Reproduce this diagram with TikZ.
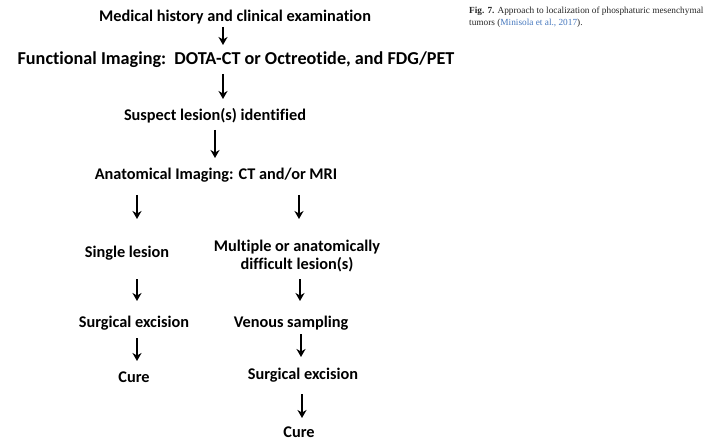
\documentclass[tikz,border=0pt]{standalone}
\usepackage{fontspec}
\setmainfont[Ligatures=NoCommon]{Carlito}
\newfontfamily\capfont{Liberation Serif}
\usetikzlibrary{arrows.meta}
\definecolor{citeblue}{RGB}{70,120,190}
\begin{document}
\begin{tikzpicture}[x=1pt,y=-1pt,
  lbl/.style={font=\fontsize{16.3}{18.5}\selectfont\bfseries, inner sep=0pt, align=center},
  big/.style={font=\fontsize{18.2}{21}\selectfont\bfseries, inner sep=0pt},
  arr/.style={line width=1.5pt, -{Stealth[length=8pt,width=9pt,inset=2.5pt]}},
  captext/.style={font=\fontsize{9.3}{11}\selectfont\capfont, text=black!85, inner sep=0pt, anchor=west}]
\useasboundingbox (0,0) rectangle (705,441);
\node[lbl] (med) at (235,17) {Medical history and clinical examination};
\node[big] (fun) at (236,60) {Functional Imaging:\ \ DOTA-CT or Octreotide, and FDG/PET};
\node[lbl] (sus) at (215,116) {Suspect lesion(s) identified};
\node[lbl] (ana) at (216,175) {Anatomical Imaging: CT and/or MRI};
\node[lbl] (sin) at (127,253) {Single lesion};
\node[lbl] (mul) at (297,256) {Multiple or anatomically\\difficult lesion(s)};
\node[lbl] (se1) at (134,323) {Surgical excision};
\node[lbl] (ven) at (291,323) {Venous sampling};
\node[lbl] (cu1) at (134,377) {Cure};
\node[lbl] (se2) at (303,375) {Surgical excision};
\node[lbl] (cu2) at (299,432) {Cure};
\node[captext] (cap1) at (469,11) {\textbf{Fig. 7.} Approach to localization of phosphaturic mesenchymal};
\node[captext] (cap2) at (469,23) {tumors (\textcolor{citeblue}{Minisola et al., 2017}).};
\coordinate (a1s) at (223,27); \coordinate (a1e) at (223,45);
\coordinate (a2s) at (223,74); \coordinate (a2e) at (223,99);
\coordinate (a3s) at (215,130); \coordinate (a3e) at (215,158);
\coordinate (a4s) at (137,195); \coordinate (a4e) at (137,219);
\coordinate (a5s) at (299,195); \coordinate (a5e) at (299,219);
\coordinate (a6s) at (137,279); \coordinate (a6e) at (137,301);
\coordinate (a7s) at (300,279); \coordinate (a7e) at (300,301);
\coordinate (a8s) at (137,338); \coordinate (a8e) at (137,361);
\coordinate (a9s) at (301,334); \coordinate (a9e) at (301,357);
\coordinate (a10s) at (302,394); \coordinate (a10e) at (302,418);
\draw[arr] (a1s) -- (a1e);
\draw[arr] (a2s) -- (a2e);
\draw[arr] (a3s) -- (a3e);
\draw[arr] (a4s) -- (a4e);
\draw[arr] (a5s) -- (a5e);
\draw[arr] (a6s) -- (a6e);
\draw[arr] (a7s) -- (a7e);
\draw[arr] (a8s) -- (a8e);
\draw[arr] (a9s) -- (a9e);
\draw[arr] (a10s) -- (a10e);
\end{tikzpicture}
\end{document}
